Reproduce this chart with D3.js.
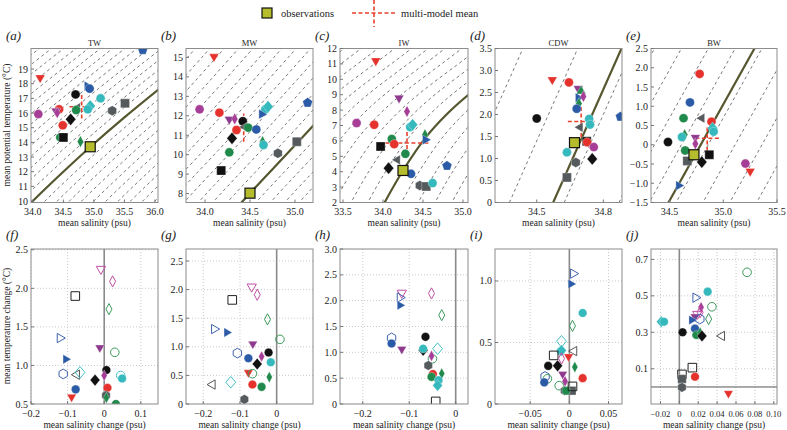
<!DOCTYPE html>
<html><head><meta charset="utf-8">
<script src="https://cdn.jsdelivr.net/npm/d3@7"></script>
<style>
body{margin:0;background:#fff}
svg{display:block}
svg text{font-family:"Liberation Serif","Times New Roman","DejaVu Serif",serif;fill:#222}
</style>
</head><body>
<svg id="c" width="787" height="430" font-family="Liberation Serif, Times New Roman, serif"></svg>
<script>
// ---------------- DATA ----------------
// top row: [style, mean salinity (psu), mean potential temperature (°C)]
const waterMasses = ["TW","MW","IW","CDW","BW"];
const dataTW = [
 ["bP",35.80,20.3],["rD",34.12,18.41],["bR",34.89,17.84],["bC",34.93,17.66],["kC",34.70,17.27],
 ["tC",35.11,17.0],["gS",35.51,16.66],["rC",34.43,16.25],["pD",34.38,16.14],["mDi",34.40,16.02],
 ["mC",34.09,15.93],["gL",34.73,16.36],["dC",34.71,16.2],["tDi",34.94,16.48],["tC",34.90,16.25],
 ["gH",35.30,16.16],["kDi",34.62,15.57],["rC",34.49,15.16],["dC",34.45,14.34],["kS",34.50,14.34],
 ["dDi",34.78,14.05]];
const dataMW = [
 ["rD",34.10,15.04],["mC",33.94,12.33],["rC",34.16,12.16],["bP",35.14,12.67],["tC",34.67,12.33],
 ["tDi",34.70,12.47],["pD",34.27,11.82],["mDi",34.33,11.84],["kC",34.42,11.72],["bR",34.63,12.08],
 ["gL",34.44,11.42],["dC",34.48,11.39],["rC",34.35,11.27],["bC",34.57,11.30],["kDi",34.30,10.84],
 ["dDi",34.64,10.67],["tC",34.65,10.50],["gH",34.81,10.07],["dC",34.27,10.12],["gS",35.02,10.67],
 ["kS",34.18,9.18]];
const dataIW = [
 ["rD",33.91,11.2],["pD",34.20,8.78],["mDi",34.30,7.91],["mC",33.67,7.16],["rC",33.89,7.05],
 ["tC",34.34,6.9],["tDi",34.37,7.05],["dC",34.11,6.12],["rC",34.14,5.79],["dDi",34.525,6.4],
 ["bR",34.53,6.07],["kS",33.97,5.64],["dC",34.28,5.16],["gL",34.18,4.77],["kDi",34.07,4.23],
 ["bC",34.35,3.86],["bP",34.80,4.38],["gH",34.46,3.1],["gS",34.54,3.04],["tC",34.62,3.26]];
const dataCDW = [
 ["rD",34.57,2.79],["rC",34.645,2.73],["pD",34.687,2.59],["dU",34.70,2.53],["bR",34.687,2.38],
 ["mDi",34.71,2.41],["dDi",34.69,2.25],["bC",34.68,2.13],["kC",34.50,1.91],["bP",34.877,1.95],
 ["tC",34.736,1.90],["tC",34.74,1.77],["gL",34.695,1.71],["kS",34.725,1.39],["rC",34.727,1.37],
 ["mC",34.757,1.26],["tC",34.636,1.14],["gH",34.676,0.91],["kDi",34.75,0.99],["gS",34.636,0.57]];
const dataBW = [
 ["rC",34.78,1.84],["bC",34.69,1.10],["dC",34.63,0.69],["gL",34.80,0.69],["rC",34.89,0.60],
 ["tDi",34.90,0.43],["tC",34.91,0.34],["dDi",34.64,0.26],["tC",34.615,0.20],["pD",34.74,0.19],
 ["mDi",34.74,0.025],["kC",34.485,0.07],["dC",34.645,-0.15],["kS",34.87,-0.26],["gS",34.665,-0.42],
 ["kDi",34.80,-0.45],["mC",35.206,-0.49],["rD",35.25,-0.69],["bR",34.585,-1.06]];
// observations [S, T]
const obsTW=[34.94,13.70], obsMW=[34.50,8.02], obsIW=[34.25,4.08], obsCDW=[34.67,1.36], obsBW=[34.727,-0.26];
// multi-model mean [S, T, S spread, T spread]
const meanTW=[34.80,16.43,0.20,0.80], meanMW=[34.43,11.39,0.115,0.73], meanIW=[34.30,5.86,0.27,0.80],
      meanCDW=[34.70,1.84,0.06,0.35], meanBW=[34.85,0.17,0.11,0.33];
// isopycnal through observations [S, T] and spacing of the other isopycnals (psu)
const isoTW=[[33.45,7.6],[34.0,10.0],[34.5,12.0],[34.95,13.72],[35.5,15.7],[36.08,17.68],[36.6,19.4],[37.0,20.7]];
const isoMW=[[34.3,7.0],[34.5,8.02],[35.21,11.53],[36.0,15.6]];
const isoIW=[[33.97,1.5],[34.02,2.0],[34.25,4.08],[34.53,6.2],[34.8,7.75],[35.075,9.03],[35.7,11.5],[35.9,12.3]];
const isoCDW=[[34.53,-0.5],[34.93,4.05]];
const isoBW=[[34.45,-1.7],[35.33,2.7]];
const isoStep={TW:0.2, MW:0.16, IW:0.21, CDW:0.247, BW:0.25};
const isoPhase={TW:0, MW:0, IW:0, CDW:0.05, BW:0.07};

// bottom row: [style, mean salinity change (psu), mean temperature change (°C)]
const chgTW = [
 ["oMD",-0.009,2.25],["oMDi",0.023,2.09],["oKS",-0.079,1.90],["oDDi",0.013,1.73],["oBR",-0.121,1.355],
 ["pD",-0.012,1.23],["oDC",0.029,1.17],["bR",-0.105,1.08],["oBH",-0.112,0.89],["oGL",-0.075,0.88],
 ["oTDi",-0.066,0.91],["kC",0.006,0.94],["kDi",-0.025,0.81],["mDi",0.0,0.87],["oTC",0.045,0.87],
 ["tC",0.049,0.83],["rC",0.009,0.71],["bC",-0.078,0.69],["rD",-0.089,0.59],["gH",0.005,0.61],
 ["dDi",0.006,0.58],["dC",0.032,0.50]];
const chgMW = [
 ["oMD",-0.068,2.05],["oMDi",-0.053,1.91],["oKS",-0.121,1.82],["oDDi",-0.025,1.48],["oBR",-0.170,1.31],
 ["bR",-0.136,1.25],["oDC",0.009,1.13],["pD",-0.065,1.05],["oBH",-0.107,0.89],["kC",-0.022,0.90],
 ["mDi",-0.041,0.83],["bC",-0.077,0.80],["tC",-0.016,0.73],["kDi",-0.053,0.70],["rD",-0.077,0.55],
 ["oDC",-0.066,0.53],["dDi",-0.020,0.47],["oTDi",-0.125,0.38],["oGL",-0.175,0.34],["rC",-0.066,0.34],
 ["dC",-0.041,0.30],["gH",-0.088,0.08]];
const chgIW = [
 ["oMD",-0.116,2.15],["oBR",-0.120,2.06],["oMDi",-0.052,2.14],["bR",-0.120,1.91],["oDDi",-0.030,1.72],
 ["oBH",-0.138,1.28],["bC",-0.138,1.17],["kC",-0.065,1.30],["pD",-0.116,1.06],["kDi",-0.070,1.04],
 ["tC",-0.070,1.07],["oTDi",-0.039,1.07],["oDC",-0.050,0.875],["mDi",-0.052,0.93],["gH",-0.059,0.745],
 ["rC",-0.049,0.58],["dC",-0.052,0.525],["dDi",-0.030,0.59],["tC",-0.037,0.46],["tDi",-0.039,0.36],
 ["oKS",-0.043,0.05]];
const chgCDW = [
 ["oBR",0.005,1.06],["bR",0.002,0.976],["tC",0.017,0.74],["oDDi",0.004,0.635],["oTDi",-0.010,0.51],
 ["tC",-0.011,0.43],["tDi",-0.010,0.435],["oGL",0.006,0.43],["oKS",-0.020,0.395],["oMDi",-0.010,0.37],
 ["rD",-0.001,0.385],["kC",-0.027,0.31],["kDi",-0.015,0.31],["dDi",0.007,0.30],["pD",-0.0085,0.243],
 ["oBH",-0.031,0.224],["oDC",-0.028,0.205],["mDi",-0.0055,0.184],["rC",0.017,0.21],["bC",-0.032,0.176],
 ["oDC",-0.013,0.149],["gS",0.003,0.108],["gH",-0.006,0.108],["dC",-0.004,0.108],["oKS",0.004,0.143]];
const chgBW = [
 ["oDC",0.0717,0.629],["tC",0.030,0.523],["oBR",0.0172,0.49],["oDC",0.0345,0.44],["mDi",0.023,0.437],
 ["oMDi",0.022,0.41],["oMD",0.019,0.40],["pD",0.0166,0.385],["oBH",0.0217,0.373],["oDDi",0.031,0.373],
 ["bR",0.013,0.367],["tDi",-0.019,0.358],["tC",-0.0162,0.358],["bC",0.0166,0.32],["kC",0.0034,0.30],
 ["dC",0.018,0.285],["dDi",0.022,0.298],["kDi",0.024,0.28],["oGL",0.045,0.28],["oKS",0.0138,0.106],
 ["rC",0.0166,0.056],["oKS",0.0028,0.069],["gS",0.0028,0.044],["gH",0.0028,-0.002],["rD",0.052,-0.035]];

// tick values
const ticksTop = {
 TW:{x:[34.0,34.5,35.0,35.5,36.0], y:[10,11,12,13,14,15,16,17,18,19]},
 MW:{x:[34.0,34.5,35.0], y:[8,9,10,11,12,13,14,15]},
 IW:{x:[33.5,34.0,34.5,35.0], y:[2,3,4,5,6,7,8,9,10,11,12]},
 CDW:{x:[34.5,34.8], y:[0,0.5,1.0,1.5,2.0,2.5,3.0,3.5]},
 BW:{x:[34.5,35.0,35.5], y:[-1.5,-1.0,-0.5,0,0.5,1.0,1.5,2.0,2.5]}};
const ticksBot = {
 TW:{x:[-0.2,-0.1,0,0.1], y:[0.5,1.0,1.5,2.0,2.5]},
 MW:{x:[-0.2,-0.1,0], y:[0,0.5,1.0,1.5,2.0,2.5]},
 IW:{x:[-0.2,-0.1,0], y:[0,0.5,1.0,1.5,2.0,2.5,3.0]},
 CDW:{x:[-0.05,0,0.05], y:[0,0.5,1.0]},
 BW:{x:[-0.02,0,0.02,0.04,0.06,0.08,0.10], y:[0.1,0.3,0.5,0.7]}};

// ---------------- STYLE / LAYOUT ----------------
const C={r:"#e5322d",k:"#111111",g:"#555a5d",d:"#1f8a4b",t:"#36b9bd",b:"#2b5ba6",p:"#8e3a8e",m:"#a63d97"};
const OC={M:"#c24ea4",D:"#3b9a5c",B:"#3f63b0",T:"#46c1c6",G:"#555555",K:"#222222"};
const STY={
 rD:["triD",C.r],rC:["circle",C.r],kC:["circle",C.k],kDi:["diamond",C.k],kS:["square",C.k],
 gS:["square",C.g],gH:["hex",C.g],gL:["triL",C.g],dC:["circle",C.d],dDi:["thin",C.d],dU:["triU",C.d],
 tC:["circle",C.t],tDi:["diamond",C.t],bP:["pent",C.b],bC:["circle",C.b],bR:["triR",C.b],
 pD:["triD",C.p],mDi:["thin",C.m],mC:["circle",C.m],
 oMD:["triD",OC.M,1],oMDi:["thin",OC.M,1],oKS:["square",OC.K,1],oDDi:["thin",OC.D,1],oBR:["triR",OC.B,1],
 oDC:["circle",OC.D,1],oBH:["hex",OC.B,1],oTDi:["diamond",OC.T,1],oGL:["triL",OC.G,1],oTC:["circle",OC.T,1]};

const lefts=[31,186,340,495,651], rights=[158,313,468,622,777];
const topY=[48.5,202.5], botY=[249,404];
const topDom = {
 TW:{x:[33.97,36.05],y:[9.9,20.4]}, MW:{x:[33.789,35.2],y:[7.54,15.46]}, IW:{x:[33.4625,35.0625],y:[2,12]},
 CDW:{x:[34.312,34.884],y:[0,3.5]}, BW:{x:[34.327,35.5],y:[-1.5,2.5]}};
const botDom = {
 TW:{x:[-0.2,0.147],y:[0.5,2.51]}, MW:{x:[-0.247,0.099],y:[0,2.71]}, IW:{x:[-0.249,0.0265],y:[0,3.0]},
 CDW:{x:[-0.0949,0.0672],y:[0,1.26]}, BW:{x:[-0.030,0.1034],y:[-0.0934,0.757]}};
const topData={TW:dataTW,MW:dataMW,IW:dataIW,CDW:dataCDW,BW:dataBW};
const topObs={TW:obsTW,MW:obsMW,IW:obsIW,CDW:obsCDW,BW:obsBW};
const topMean={TW:meanTW,MW:meanMW,IW:meanIW,CDW:meanCDW,BW:meanBW};
const topIso={TW:isoTW,MW:isoMW,IW:isoIW,CDW:isoCDW,BW:isoBW};
const botData={TW:chgTW,MW:chgMW,IW:chgIW,CDW:chgCDW,BW:chgBW};
const topDec={TW:[1,0],MW:[1,0],IW:[1,0],CDW:[1,1],BW:[1,1]};
const botDec={TW:[1,1],MW:[1,1],IW:[1,1],CDW:[2,1],BW:[2,1]};
const botXFont={TW:10,MW:10,IW:10,CDW:10,BW:8.6};
const lettersTop=["a","b","c","d","e"], lettersBot=["f","g","h","i","j"];

function fmt(v,d){ if(Math.abs(v)<1e-12) return "0"; return (v<0?"\u2212":"")+Math.abs(v).toFixed(d); }
function shapePath(t,r){
  const poly=pts=>"M"+pts.map(p=>p[0].toFixed(2)+","+p[1].toFixed(2)).join("L")+"Z";
  const reg=(n,R,a0)=>d3.range(n).map(i=>{const a=a0+i*2*Math.PI/n;return [R*Math.cos(a),R*Math.sin(a)];});
  switch(t){
    case "circle": return `M${r},0A${r},${r} 0 1,1 ${-r},0A${r},${r} 0 1,1 ${r},0Z`;
    case "square": return poly([[-r,-r],[r,-r],[r,r],[-r,r]]);
    case "diamond": return poly([[0,-1.35*r],[1.15*r,0],[0,1.35*r],[-1.15*r,0]]);
    case "thin": return poly([[0,-1.3*r],[0.7*r,0],[0,1.3*r],[-0.7*r,0]]);
    case "triD": return poly(reg(3,1.25*r,Math.PI/2));
    case "triU": return poly(reg(3,1.25*r,-Math.PI/2));
    case "triL": return poly(reg(3,1.25*r,Math.PI));
    case "triR": return poly(reg(3,1.25*r,0));
    case "pent": return poly(reg(5,1.15*r,-Math.PI/2));
    case "hex": return poly(reg(6,1.12*r,-Math.PI/2));
  }
}

const FONT="Liberation Serif, Times New Roman, serif";
const svg=d3.select("#c");
const defs=svg.append("defs");

function txt(g,x,y,s,size,anchor){
  return g.append("text").attr("x",x).attr("y",y).attr("font-size",size).attr("font-family",FONT)
    .attr("text-anchor",anchor||"start").text(s);
}

function drawMarkers(g,data,x,y,r){
  data.forEach(([k,sx,sy])=>{
    const s=STY[k];
    const p=g.append("path").attr("d",shapePath(s[0],r))
      .attr("transform",`translate(${x(sx)},${y(sy)})`);
    if(s[2]) p.attr("fill","none").attr("stroke",s[1]).attr("stroke-width",1);
    else p.attr("fill",s[1]).attr("stroke","#ffffff").attr("stroke-opacity",0.6).attr("stroke-width",0.5);
  });
}

function frame(g,x,y,xt,yt,dx,dy,yb,xfs){
  const [x0,x1]=x.range(), [y1,y0]=y.range();
  g.append("rect").attr("x",x0).attr("y",y0).attr("width",x1-x0).attr("height",y1-y0)
   .attr("fill","none").attr("stroke","#8c8c8c").attr("stroke-width",1);
  xt.forEach(v=>{
    g.append("line").attr("x1",x(v)).attr("x2",x(v)).attr("y1",y1).attr("y2",y1-3).attr("stroke","#777");
    txt(g,x(v),yb,fmt(v,dx),xfs||10,"middle");
  });
  yt.forEach(v=>{
    g.append("line").attr("x1",x0).attr("x2",x0+3).attr("y1",y(v)).attr("y2",y(v)).attr("stroke","#777");
    txt(g,x0-3,y(v)+3.5,fmt(v,dy),10,"end");
  });
}

// ---------------- TOP ROW ----------------
waterMasses.forEach((wm,i)=>{
  const x=d3.scaleLinear().domain(topDom[wm].x).range([lefts[i],rights[i]]);
  const y=d3.scaleLinear().domain(topDom[wm].y).range([topY[1],topY[0]]);
  const cid="clipT"+i;
  defs.append("clipPath").attr("id",cid).append("rect").attr("x",lefts[i]).attr("y",topY[0])
    .attr("width",rights[i]-lefts[i]).attr("height",topY[1]-topY[0]);
  const g=svg.append("g");
  const cg=g.append("g").attr("clip-path",`url(#${cid})`);
  const line=d3.line().x(d=>x(d[0])).y(d=>y(d[1])).curve(d3.curveCatmullRom);
  const step=isoStep[wm], ph=isoPhase[wm];
  for(let k=-14;k<=14;k++){
    const off=ph+k*step;
    if(Math.abs(off)<1e-9) continue;
    cg.append("path").attr("d",line(topIso[wm].map(p=>[p[0]+off,p[1]])))
      .attr("fill","none").attr("stroke","#555").attr("stroke-width",0.8).attr("stroke-dasharray","3,3");
  }
  cg.append("path").attr("d",line(topIso[wm])).attr("fill","none").attr("stroke","#56562f").attr("stroke-width",2.2);
  const m=topMean[wm];
  cg.append("line").attr("x1",x(m[0]-m[2])).attr("x2",x(m[0]+m[2])).attr("y1",y(m[1])).attr("y2",y(m[1]))
    .attr("stroke","#e8402f").attr("stroke-width",1.6).attr("stroke-dasharray","4,2.5");
  cg.append("line").attr("x1",x(m[0])).attr("x2",x(m[0])).attr("y1",y(m[1]-m[3])).attr("y2",y(m[1]+m[3]))
    .attr("stroke","#e8402f").attr("stroke-width",1.6).attr("stroke-dasharray","4,2.5");
  drawMarkers(cg,topData[wm],x,y,4.5);
  const o=topObs[wm];
  cg.append("rect").attr("x",x(o[0])-5).attr("y",y(o[1])-5).attr("width",10).attr("height",10)
    .attr("fill","#b5bd2d").attr("stroke","#111").attr("stroke-width",1.2);
  frame(g,x,y,ticksTop[wm].x,ticksTop[wm].y,topDec[wm][0],topDec[wm][1],215);
  txt(g,(lefts[i]+rights[i])/2,45.5,wm,8.5,"middle");
  txt(g,lefts[i]-25,40,"("+lettersTop[i]+")",13).attr("font-style","italic");
  txt(g,(lefts[i]+rights[i])/2,226,"mean salinity (psu)",9.5,"middle");
});

// ---------------- BOTTOM ROW ----------------
waterMasses.forEach((wm,i)=>{
  const x=d3.scaleLinear().domain(botDom[wm].x).range([lefts[i],rights[i]]);
  const y=d3.scaleLinear().domain(botDom[wm].y).range([botY[1],botY[0]]);
  const cid="clipB"+i;
  defs.append("clipPath").attr("id",cid).append("rect").attr("x",lefts[i]).attr("y",botY[0])
    .attr("width",rights[i]-lefts[i]).attr("height",botY[1]-botY[0]);
  const g=svg.append("g");
  const cg=g.append("g").attr("clip-path",`url(#${cid})`);
  ticksBot[wm].x.forEach(v=>{ if(v!==0) cg.append("line").attr("x1",x(v)).attr("x2",x(v)).attr("y1",botY[0]).attr("y2",botY[1])
     .attr("stroke","#bdbdbd").attr("stroke-width",0.8).attr("stroke-dasharray","1,2"); });
  ticksBot[wm].y.forEach(v=>cg.append("line").attr("x1",lefts[i]).attr("x2",rights[i]).attr("y1",y(v)).attr("y2",y(v))
     .attr("stroke","#bdbdbd").attr("stroke-width",0.8).attr("stroke-dasharray","1,2"));
  cg.append("line").attr("x1",x(0)).attr("x2",x(0)).attr("y1",botY[0]).attr("y2",botY[1])
    .attr("stroke","#8a8a8a").attr("stroke-width",1.6);
  if(wm==="BW") cg.append("line").attr("x1",lefts[i]).attr("x2",rights[i]).attr("y1",y(0)).attr("y2",y(0))
    .attr("stroke","#555").attr("stroke-width",1);
  drawMarkers(cg,botData[wm],x,y,4.3);
  frame(g,x,y,ticksBot[wm].x,ticksBot[wm].y,botDec[wm][0],botDec[wm][1],417,botXFont[wm]);
  txt(g,lefts[i]-25,239,"("+lettersBot[i]+")",13).attr("font-style","italic");
  txt(g,(lefts[i]+rights[i])/2,428,"mean salinity change (psu)",9.5,"middle");
});

// axis titles
txt(svg,0,0,"mean potential temperature (\u00b0C)",9.5,"middle").attr("transform","translate(10,125) rotate(-90)");
txt(svg,0,0,"mean temperature change (\u00b0C)",9.5,"middle").attr("transform","translate(10,326) rotate(-90)");

// legend
const lg=svg.append("g");
lg.append("rect").attr("x",262).attr("y",8).attr("width",10).attr("height",10)
  .attr("fill","#b5bd2d").attr("stroke","#111").attr("stroke-width",1.2);
txt(lg,281,17,"observations",10.5);
lg.append("line").attr("x1",352).attr("x2",396).attr("y1",13).attr("y2",13)
  .attr("stroke","#e8402f").attr("stroke-width",1.6).attr("stroke-dasharray","4,2.5");
lg.append("line").attr("x1",374).attr("x2",374).attr("y1",0).attr("y2",27)
  .attr("stroke","#e8402f").attr("stroke-width",1.6).attr("stroke-dasharray","4,2.5");
txt(lg,401,17,"multi-model mean",10.5);
</script>
</body></html>
